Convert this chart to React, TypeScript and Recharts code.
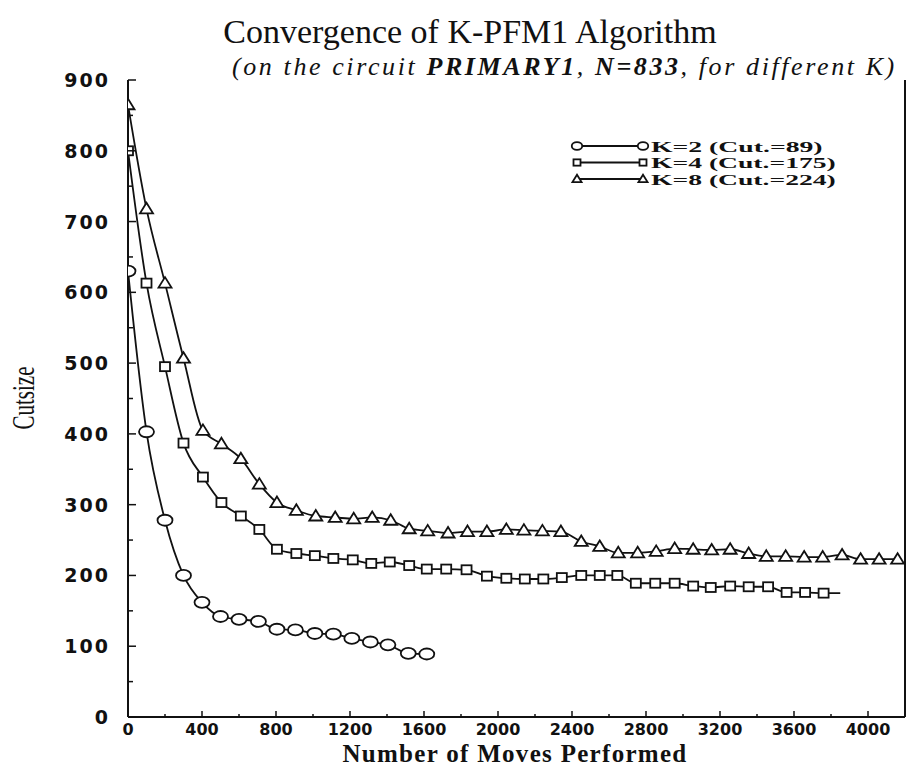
import { LineChart, Line, XAxis, YAxis } from "recharts";

// K=2 run
const k2Moves = [0, 100, 200, 300, 400, 500, 600, 705, 805, 905, 1010, 1110, 1210, 1310, 1405, 1515, 1615];
const k2Cut = [630, 403, 278, 200, 162, 142, 138, 135, 124, 123, 118, 117, 111, 106, 102, 90, 89];

// K=4 run (last point is the end of the line, no marker)
const k4Moves = [0, 100, 200, 300, 405, 505, 610, 710, 805, 910, 1010, 1110, 1215, 1315, 1415, 1520, 1615, 1720, 1830, 1940, 2045, 2145, 2245, 2345, 2450, 2550, 2645, 2745, 2850, 2955, 3055, 3150, 3255, 3355, 3460, 3560, 3660, 3760, 3850];
const k4Cut = [800, 613, 495, 387, 339, 303, 284, 265, 237, 231, 228, 224, 222, 217, 219, 214, 209, 209, 208, 199, 196, 195, 195, 197, 200, 200, 200, 189, 189, 189, 185, 183, 185, 184, 184, 176, 176, 175, 175];
const k4Markers = 38;

// K=8 run
const k8Moves = [0, 100, 200, 300, 405, 505, 610, 710, 805, 910, 1015, 1120, 1220, 1320, 1420, 1520, 1620, 1730, 1835, 1940, 2045, 2140, 2240, 2340, 2450, 2550, 2650, 2755, 2855, 2955, 3055, 3155, 3255, 3355, 3450, 3555, 3655, 3755, 3860, 3960, 4060, 4160];
const k8Cut = [865, 718, 613, 507, 405, 386, 365, 329, 303, 292, 284, 282, 280, 282, 278, 266, 263, 260, 262, 262, 265, 264, 263, 262, 248, 241, 232, 232, 234, 238, 237, 236, 237, 231, 227, 227, 226, 226, 229, 223, 223, 223];

const xTicks = [0, 200, 400, 600, 800, 1000, 1200, 1400, 1600, 1800, 2000, 2200, 2400, 2600, 2800, 3000, 3200, 3400, 3600, 3800, 4000];
const xLabelled = [0, 400, 800, 1200, 1600, 2000, 2400, 2800, 3200, 3600, 4000];
const yTicks = [0, 50, 100, 150, 200, 250, 300, 350, 400, 450, 500, 550, 600, 650, 700, 750, 800, 850, 900];
const yLabelled = [0, 100, 200, 300, 400, 500, 600, 700, 800, 900];

const legendLabels = ["K=2 (Cut.=89)", "K=4 (Cut.=175)", "K=8 (Cut.=224)"];
const legendShapes = ["circle", "square", "triangle"];

const toRows = (xs: number[], ys: number[]) => xs.map((x, i) => ({ moves: x, cut: ys[i] }));

const k2Data = toRows(k2Moves, k2Cut);
const k4Data = toRows(k4Moves, k4Cut);
const k8Data = toRows(k8Moves, k8Cut);

const INK = "#111";

function Marker({ shape, cx, cy, s = 1 }: { shape: string; cx: number; cy: number; s?: number }) {
  if (shape === "circle") {
    return <ellipse cx={cx} cy={cy} rx={7.5 * s} ry={5.5 * s} fill="#fff" stroke={INK} strokeWidth={1.8} />;
  }
  if (shape === "square") {
    return <rect x={cx - 5 * s} y={cy - 4.5 * s} width={10 * s} height={9 * s} fill="#fff" stroke={INK} strokeWidth={1.8} />;
  }
  return (
    <polygon
      points={`${cx - 6.5 * s},${cy + 4.5 * s} ${cx + 6.5 * s},${cy + 4.5 * s} ${cx},${cy - 6 * s}`}
      fill="#fff"
      stroke={INK}
      strokeWidth={1.8}
    />
  );
}

const makeDot = (shape: string, count: number) => (props: any) => {
  const { cx, cy, index } = props;
  if (index >= count || cx == null) return <g key={`d-${shape}-${index}`} />;
  return (
    <g key={`d-${shape}-${index}`}>
      <Marker shape={shape} cx={cx} cy={cy} />
    </g>
  );
};

const BottomTick = (props: any) => {
  const { x, y, payload } = props;
  const major = xLabelled.includes(payload.value);
  return (
    <g>
      <line x1={x} y1={y} x2={x} y2={y - (major ? 6 : 3)} stroke={INK} strokeWidth={1.5} />
      {major && (
        <text
          x={x}
          y={y + 18}
          textAnchor="middle"
          fontFamily="DejaVu Sans"
          fontWeight="bold"
          fontSize={16}
          fill={INK}
        >
          {payload.value}
        </text>
      )}
    </g>
  );
};

const TopTick = (props: any) => {
  const { x, y, payload } = props;
  const major = xLabelled.includes(payload.value);
  return <line x1={x} y1={y} x2={x} y2={y + (major ? 5 : 4)} stroke={INK} strokeWidth={1.5} />;
};

const LeftTick = (props: any) => {
  const { x, y, payload } = props;
  const major = yLabelled.includes(payload.value);
  return (
    <g>
      <line x1={x} y1={y} x2={x + (major ? 8 : 5)} y2={y} stroke={INK} strokeWidth={1.5} />
      {major && (
        <text
          x={x - 18}
          y={y + 7}
          textAnchor="end"
          fontFamily="DejaVu Sans"
          fontWeight="bold"
          fontSize={19}
          letterSpacing={2}
          fill={INK}
        >
          {payload.value}
        </text>
      )}
    </g>
  );
};

const RightTick = (props: any) => {
  const { x, y, payload } = props;
  const major = yLabelled.includes(payload.value);
  return <line x1={x} y1={y} x2={x - (major ? 9 : 4)} y2={y} stroke={INK} strokeWidth={1.5} />;
};

export default function App() {
  return (
    <div style={{ position: "absolute", left: 0, top: 0, width: 910, height: 766, background: "#fff" }}>
      <LineChart width={910} height={766} margin={{ top: 80, right: 0, bottom: 0, left: 0 }}>
        <XAxis
          xAxisId="bottom"
          dataKey="moves"
          type="number"
          domain={[0, 4200]}
          ticks={xTicks}
          interval={0}
          height={49}
          tickSize={0}
          tickMargin={0}
          tickLine={false}
          tick={BottomTick}
          axisLine={{ stroke: INK, strokeWidth: 2 }}
          allowDataOverflow
        />
        <XAxis
          xAxisId="top"
          orientation="top"
          dataKey="moves"
          type="number"
          domain={[0, 4200]}
          ticks={xTicks}
          interval={0}
          height={0}
          tickSize={0}
          tickMargin={0}
          tickLine={false}
          tick={TopTick}
          axisLine={{ stroke: INK, strokeWidth: 2 }}
        />
        <YAxis
          yAxisId="left"
          type="number"
          domain={[0, 900]}
          ticks={yTicks}
          interval={0}
          width={128}
          tickSize={0}
          tickMargin={0}
          tickLine={false}
          tick={LeftTick}
          axisLine={{ stroke: INK, strokeWidth: 2 }}
        />
        <YAxis
          yAxisId="right"
          orientation="right"
          type="number"
          domain={[0, 900]}
          ticks={yTicks}
          interval={0}
          width={5}
          tickSize={0}
          tickMargin={0}
          tickLine={false}
          tick={RightTick}
          axisLine={{ stroke: INK, strokeWidth: 2 }}
        />
        <Line
          xAxisId="bottom"
          yAxisId="left"
          data={k2Data}
          dataKey="cut"
          type="monotone"
          stroke={INK}
          strokeWidth={1.8}
          dot={makeDot("circle", k2Cut.length)}
          activeDot={false}
          isAnimationActive={false}
        />
        <Line
          xAxisId="bottom"
          yAxisId="left"
          data={k4Data}
          dataKey="cut"
          type="monotone"
          stroke={INK}
          strokeWidth={1.8}
          dot={makeDot("square", k4Markers)}
          activeDot={false}
          isAnimationActive={false}
        />
        <Line
          xAxisId="bottom"
          yAxisId="left"
          data={k8Data}
          dataKey="cut"
          type="monotone"
          stroke={INK}
          strokeWidth={1.8}
          dot={makeDot("triangle", k8Cut.length)}
          activeDot={false}
          isAnimationActive={false}
        />
      </LineChart>

      <svg
        width={910}
        height={766}
        style={{ position: "absolute", left: 0, top: 0, pointerEvents: "none" }}
      >
        <text x={470} y={43} textAnchor="middle" fontFamily="Liberation Serif" fontSize={34} fill={INK}>
          Convergence of K-PFM1 Algorithm
        </text>
        <text
          x={232}
          y={75}
          fontFamily="Liberation Serif"
          fontStyle="italic"
          fontSize={26}
          letterSpacing={2.6}
          fill={INK}
        >
          (on the circuit <tspan fontWeight="bold">PRIMARY1</tspan>, <tspan fontWeight="bold">N=833</tspan>, for different K)
        </text>
        <text
          x={515}
          y={762}
          textAnchor="middle"
          fontFamily="Liberation Serif"
          fontWeight="bold"
          fontSize={25}
          letterSpacing={1.3}
          fill={INK}
        >
          Number of Moves Performed
        </text>
        <text
          transform="translate(34 398) rotate(-90)"
          textAnchor="middle"
          fontFamily="Liberation Serif"
          fontSize={32}
          textLength={63}
          lengthAdjust="spacingAndGlyphs"
          fill={INK}
        >
          Cutsize
        </text>

        {legendLabels.map((label, i) => {
          const y = 146 + i * 16.5;
          return (
            <g key={label}>
              <line x1={577} y1={y} x2={643} y2={y} stroke={INK} strokeWidth={1.8} />
              <Marker shape={legendShapes[i]} cx={577} cy={y} s={0.7} />
              <Marker shape={legendShapes[i]} cx={643} cy={y} s={0.7} />
              <text
                x={651}
                y={y + 5.5}
                fontFamily="Liberation Serif"
                fontWeight="bold"
                fontSize={15.5}
                textLength={label.length * 13.2}
                lengthAdjust="spacingAndGlyphs"
                fill={INK}
              >
                {label}
              </text>
            </g>
          );
        })}
      </svg>
    </div>
  );
}
